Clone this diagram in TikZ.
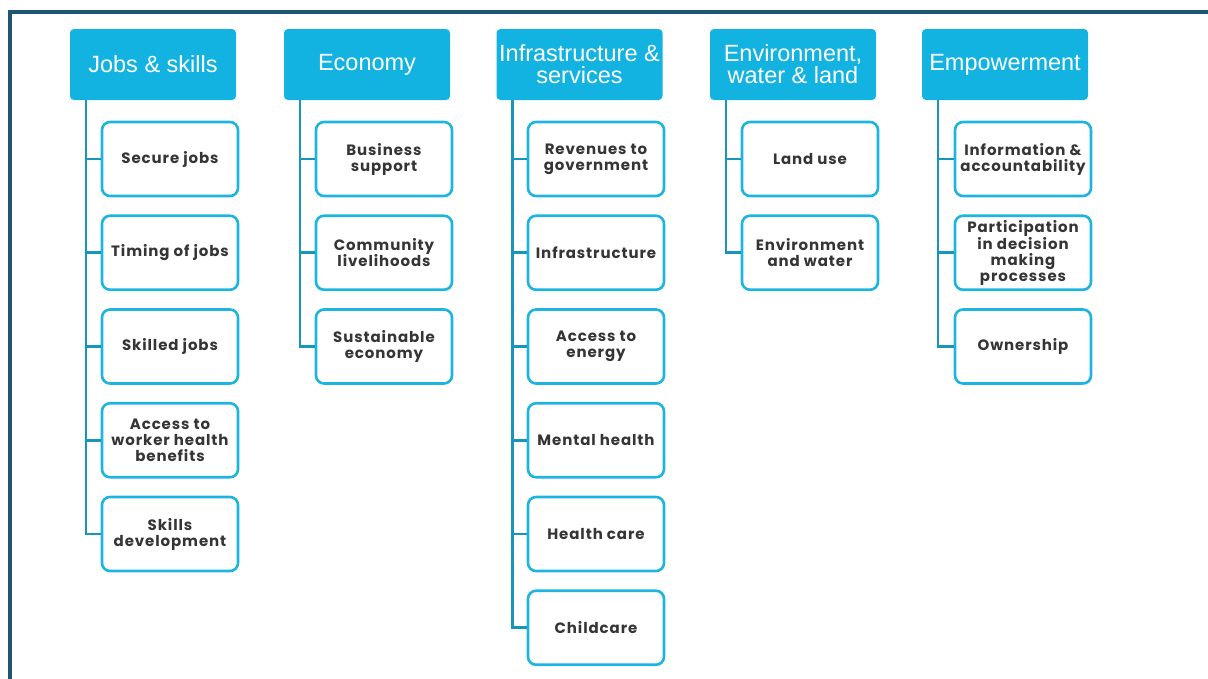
\documentclass[tikz,border=0pt]{standalone}
\usepackage{fontspec}
\setmainfont{Liberation Sans}
\newfontfamily\boxfont[LetterSpace=6]{Poppins}
\usetikzlibrary{calc}

\definecolor{headblue}{HTML}{13B3E1}
\definecolor{boxblue}{HTML}{1DB5E0}
\definecolor{spineblue}{HTML}{1596BA}
\definecolor{framebl}{HTML}{1E5570}
\definecolor{boxtext}{HTML}{353535}

\tikzset{
  head/.style={fill=headblue, text=white, rounded corners=4pt, minimum width=166pt,
    minimum height=71pt, align=center, inner sep=0pt,
    font=\fontsize{23.5}{22}\selectfont},
  item/.style={draw=boxblue, line width=2.6pt, fill=white, rounded corners=8pt,
    minimum width=136pt, minimum height=74pt, align=center, inner sep=0pt, text=boxtext,
    font=\boxfont\bfseries\fontsize{15}{16}\selectfont},
  spine/.style={draw=spineblue, line width=2.6pt}
}

\begin{document}
\begin{tikzpicture}[x=1pt,y=-1pt]
            \useasboundingbox (0,0) rectangle (1208,678);
            \draw [line width=4pt,framebl] (10,690) -- (10,12) -- (1220,12);

            % column heads
            \foreach \n/\x/\t in {jobs/153/Jobs \& skills, econ/367/Economy,
                infra/579.5/{Infrastructure \&\\services}, env/793/{Environment,\\water \& land},
                emp/1005/Empowerment} {
            \node[head] (\n) at (\x,64.5) {\t};
            \coordinate (\n s) at ($(\n.south west)+(16,0)$);}

            % items under each head
            \foreach \t [count=\i] in {Secure jobs, Timing of jobs, Skilled jobs,
                {Access to\\worker health\\benefits}, {Skills\\development}} {
            \node[item] (jobs\i) at (170,{159+93.75*(\i-1)}) {\t};
            \draw[spine] (jobss) |- (jobs\i.west);}
            \foreach \t [count=\i] in {{Business\\support}, {Community\\livelihoods},
                {Sustainable\\economy}} {
            \node[item] (econ\i) at (384,{159+93.75*(\i-1)}) {\t};
            \draw[spine] (econs) |- (econ\i.west);}
            \foreach \t [count=\i] in {{Revenues to\\government}, Infrastructure,
                {Access to\\energy}, Mental health, Health care, Childcare} {
            \node[item] (infra\i) at (596,{159+93.75*(\i-1)}) {\t};
            \draw[spine] (infras) |- (infra\i.west);}
            \foreach \t [count=\i] in {Land use, {Environment\\and water}} {
            \node[item] (env\i) at (810,{159+93.75*(\i-1)}) {\t};
            \draw[spine] (envs) |- (env\i.west);}
            \foreach \t [count=\i] in {{Information \&\\accountability},
                {Participation\\in decision\\making\\processes}, Ownership} {
            \node[item] (emp\i) at (1023,{159+93.75*(\i-1)}) {\t};
            \draw[spine] (emps) |- (emp\i.west);}
\end{tikzpicture}
\end{document}
